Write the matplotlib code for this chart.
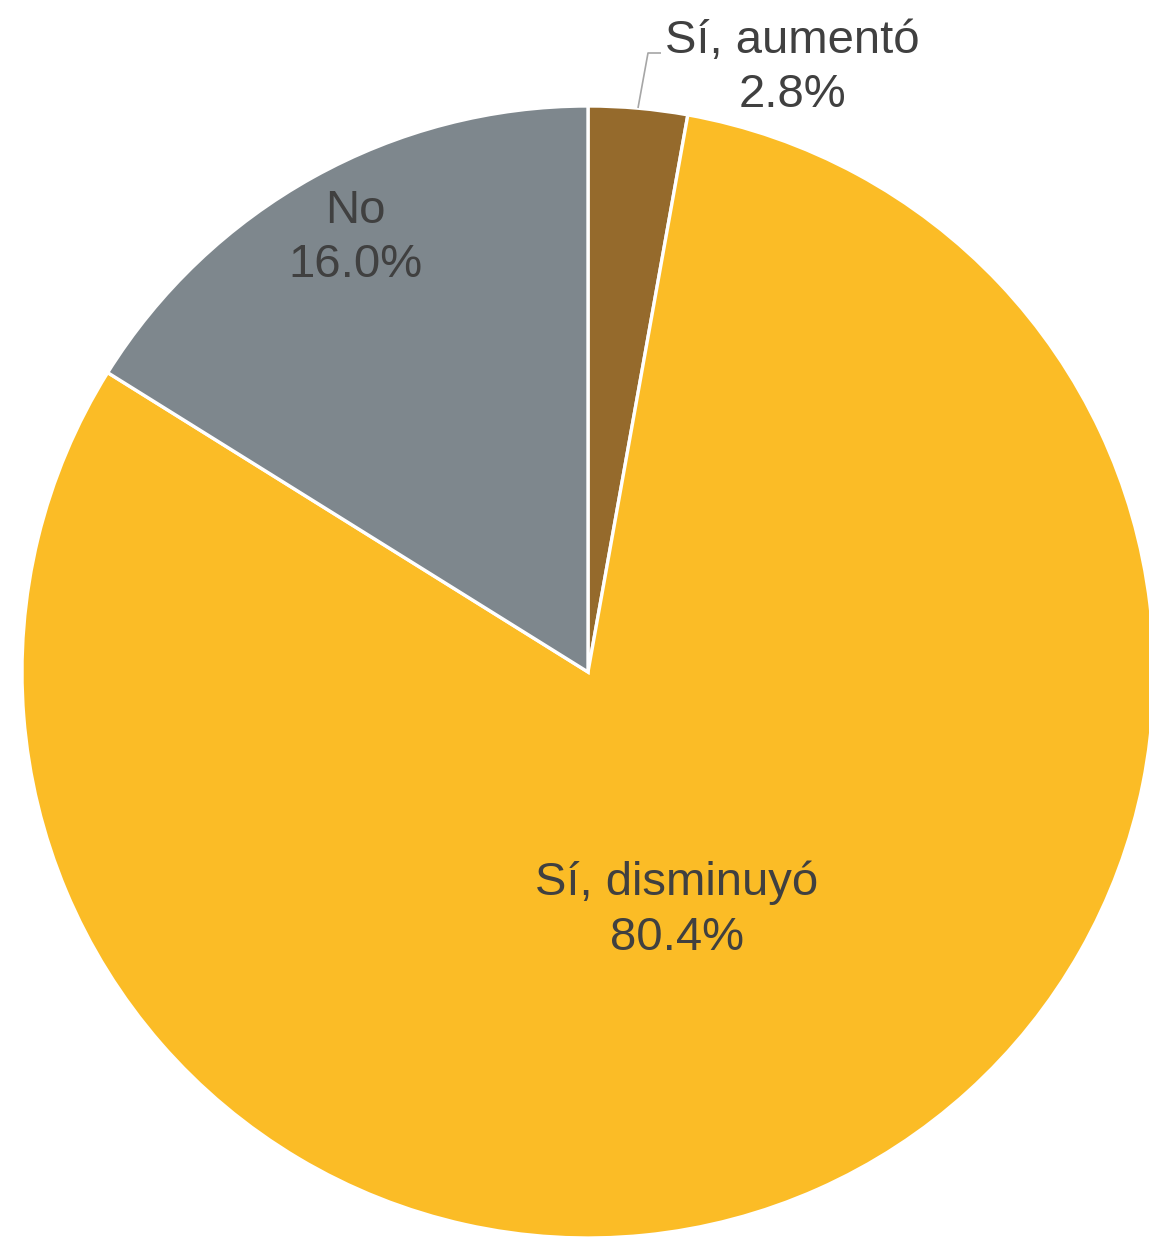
import matplotlib
matplotlib.use("Agg")
import matplotlib.pyplot as plt

categories = ["Sí, aumentó", "Sí, disminuyó", "No"]
values = [2.8, 80.4, 16.0]
colors = ["#956A2C", "#FBBC26", "#7E878D"]

W, H = 1149, 1237
fig = plt.figure(figsize=(W / 100, H / 100), dpi=100)
ax = fig.add_axes([0, 0, 1, 1])
ax.set_xlim(0, W)
ax.set_ylim(0, H)
ax.set_aspect("equal")
ax.axis("off")

cx, cy, R = 588, H - 672, 566
ax.pie(values, colors=colors, startangle=90, counterclock=False,
       center=(cx, cy), radius=R, frame=True,
       wedgeprops=dict(edgecolor="white", linewidth=2.4))
ax.set_xlim(0, W)
ax.set_ylim(0, H)
ax.axis("off")

tc = "#404040"
fs = 34
fam = ["Liberation Sans", "DejaVu Sans"]
label_pos = [(792, H - 68), (677, H - 910), (355, H - 238)]
for cat, val, (x, y) in zip(categories, values, label_pos):
    ax.text(x, y, f"{cat}\n{val:.1f}%", ha="center", va="center",
            fontsize=fs, color=tc, family=fam, linespacing=1.32)

# leader line for small slice
ax.plot([638, 648, 661], [H - 108, H - 53, H - 53], color="#A6A6A6", lw=1.2,
        solid_capstyle="butt")

fig.savefig("out.png", dpi=100)
